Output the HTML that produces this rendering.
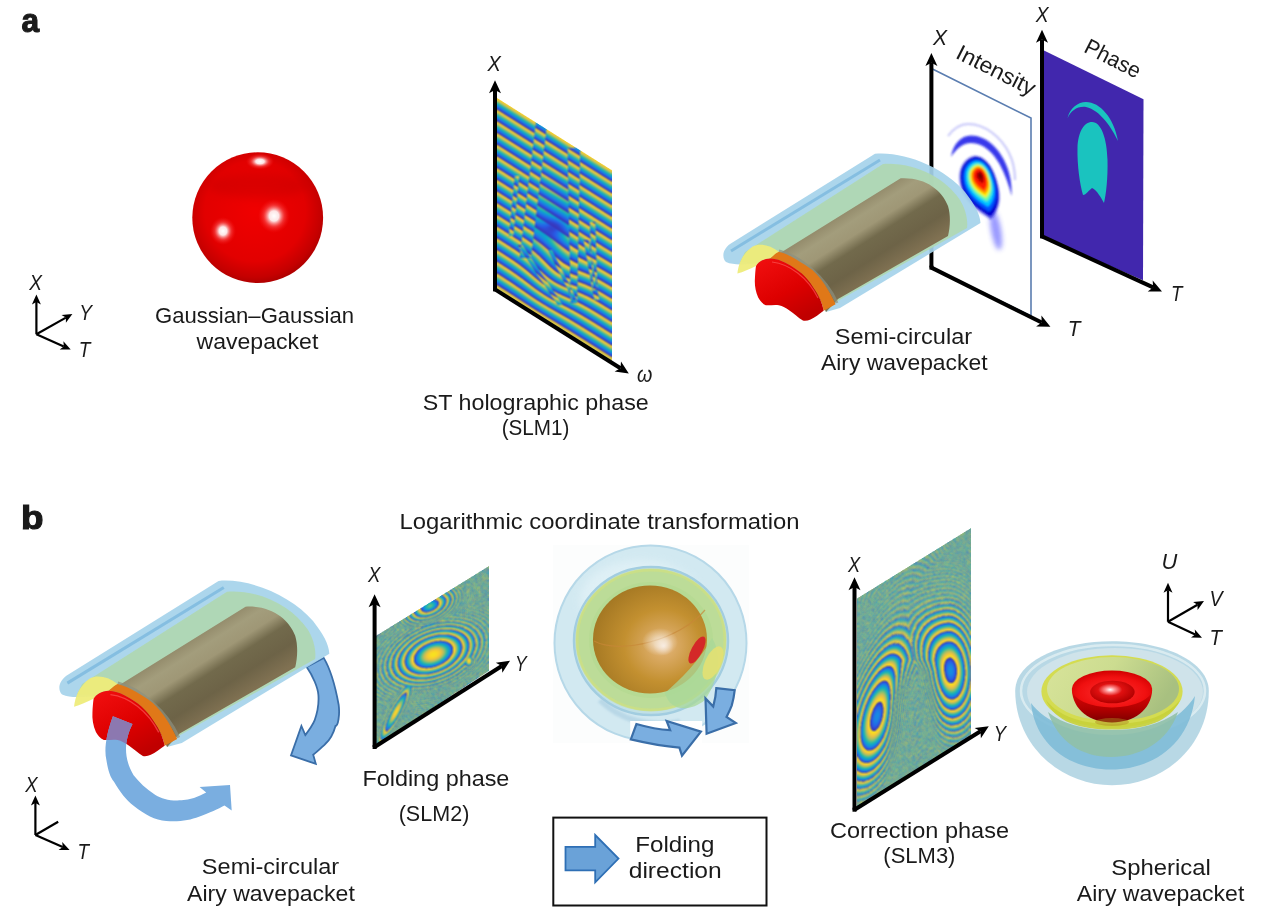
<!DOCTYPE html>
<html><head><meta charset="utf-8"><style>
html,body{margin:0;padding:0;background:#fff;width:1269px;height:917px;overflow:hidden;position:relative}
canvas{position:absolute;z-index:0}
svg{position:absolute;left:0;top:0;z-index:1}
svg{display:block}
text{font-family:"Liberation Sans",sans-serif;fill:#1a1a1a}
.it{font-style:italic}
</style></head><body>
<canvas id="cv1" width="117" height="265" style="left:496px;top:97px"></canvas>
<canvas id="cv2" width="114" height="181" style="left:376px;top:565px"></canvas>
<canvas id="cv3" width="116" height="282" style="left:856px;top:527px"></canvas>
<svg width="1269" height="917" viewBox="0 0 1269 917">

<defs>
  <radialGradient id="sphG" cx="0.48" cy="0.45" r="0.55">
    <stop offset="0" stop-color="#f00000"/>
    <stop offset="0.7" stop-color="#e20000"/>
    <stop offset="0.92" stop-color="#c40000"/>
    <stop offset="1" stop-color="#b00000"/>
  </radialGradient>
  <radialGradient id="hl">
    <stop offset="0" stop-color="#fff" stop-opacity="1"/>
    <stop offset="0.35" stop-color="#fff" stop-opacity="0.85"/>
    <stop offset="1" stop-color="#fff" stop-opacity="0"/>
  </radialGradient>
  <radialGradient id="hl2">
    <stop offset="0" stop-color="#fff" stop-opacity="1"/>
    <stop offset="0.3" stop-color="#fff" stop-opacity="0.9"/>
    <stop offset="0.65" stop-color="#ff7070" stop-opacity="0.4"/>
    <stop offset="1" stop-color="#ff2020" stop-opacity="0"/>
  </radialGradient>
  <linearGradient id="par1" gradientUnits="userSpaceOnUse" x1="497" y1="98" x2="491.73" y2="106.38" spreadMethod="repeat">
    <stop offset="0" stop-color="#f2e21c"/>
    <stop offset="0.18" stop-color="#d9cf2a"/>
    <stop offset="0.36" stop-color="#6fbe78"/>
    <stop offset="0.52" stop-color="#18aec8"/>
    <stop offset="0.7" stop-color="#2180df"/>
    <stop offset="0.86" stop-color="#3b44c6"/>
    <stop offset="0.95" stop-color="#4a3aa8"/>
    <stop offset="1" stop-color="#f2e21c"/>
  </linearGradient>
  <linearGradient id="par1s" gradientUnits="userSpaceOnUse" x1="494.36" y1="102.19" x2="489.09" y2="110.57" spreadMethod="repeat">
    <stop offset="0" stop-color="#f2e21c"/>
    <stop offset="0.18" stop-color="#d9cf2a"/>
    <stop offset="0.36" stop-color="#6fbe78"/>
    <stop offset="0.52" stop-color="#18aec8"/>
    <stop offset="0.7" stop-color="#2180df"/>
    <stop offset="0.86" stop-color="#3b44c6"/>
    <stop offset="0.95" stop-color="#4a3aa8"/>
    <stop offset="1" stop-color="#f2e21c"/>
  </linearGradient>
  <linearGradient id="par1w" gradientUnits="userSpaceOnUse" x1="540" y1="200" x2="531" y2="214" spreadMethod="repeat">
    <stop offset="0" stop-color="#f2e21c"/>
    <stop offset="0.18" stop-color="#d9cf2a"/>
    <stop offset="0.36" stop-color="#6fbe78"/>
    <stop offset="0.52" stop-color="#18aec8"/>
    <stop offset="0.7" stop-color="#2180df"/>
    <stop offset="0.86" stop-color="#3b44c6"/>
    <stop offset="0.95" stop-color="#4a3aa8"/>
    <stop offset="1" stop-color="#f2e21c"/>
  </linearGradient>
  <filter id="blur1" x="-50%" y="-50%" width="200%" height="200%"><feGaussianBlur stdDeviation="1.2"/></filter>
  <filter id="blur2" x="-50%" y="-50%" width="200%" height="200%"><feGaussianBlur stdDeviation="2.5"/></filter>
  <filter id="blur3" x="-50%" y="-50%" width="200%" height="200%"><feGaussianBlur stdDeviation="4"/></filter>
  <filter id="blur05" x="-50%" y="-50%" width="200%" height="200%"><feGaussianBlur stdDeviation="0.6"/></filter>
  <linearGradient id="brownG" gradientUnits="userSpaceOnUse" x1="880" y1="191" x2="918" y2="251">
    <stop offset="0" stop-color="#958d6d"/>
    <stop offset="0.15" stop-color="#a39d7c"/>
    <stop offset="0.33" stop-color="#9f9776"/>
    <stop offset="0.5" stop-color="#726a4c"/>
    <stop offset="0.75" stop-color="#6d6347"/>
    <stop offset="1" stop-color="#807152"/>
  </linearGradient>
  <linearGradient id="redCap" x1="0" y1="0" x2="0.6" y2="1">
    <stop offset="0" stop-color="#f21010"/>
    <stop offset="0.6" stop-color="#dd0000"/>
    <stop offset="1" stop-color="#c00000"/>
  </linearGradient>
</defs>

<!-- Gaussian sphere -->
<circle cx="257.7" cy="217.7" r="65.4" fill="url(#sphG)"/>
<ellipse cx="258" cy="186" rx="50" ry="12" fill="#b00000" opacity="0.25" filter="url(#blur3)"/>
<ellipse cx="260" cy="161.5" rx="14" ry="8" fill="url(#hl2)"/>
<ellipse cx="274" cy="216" rx="16" ry="17" fill="url(#hl2)"/>
<ellipse cx="223" cy="231" rx="13" ry="14" fill="url(#hl2)"/>

<!-- SLM1 plate -->
<g id="fb1">
<polygon points="497,98 612,170 612,361 497,289" fill="url(#par1)"/>
<g filter="url(#blur05)">
<polygon points="531,126 539.5,131 539.5,254 533,254" fill="url(#par1s)"/>
<polygon points="569.5,150 578,155 577,303 571,303" fill="url(#par1s)"/>
<polygon points="512.5,179 517.5,181 518,234 514,234" fill="url(#par1s)"/>
<polygon points="589,227 596,231 596,287 591,287" fill="url(#par1s)"/>
<path d="M539.5,190 L569.5,200 L569.5,255 C560,250 548,248 539.5,252 Z" fill="url(#par1w)"/>
<ellipse cx="551" cy="231" rx="15" ry="9" fill="#3a2fb0" opacity="0.75" filter="url(#blur2)"/>
<ellipse cx="553" cy="214" rx="12" ry="5" fill="#2f4fd8" opacity="0.6" filter="url(#blur1)"/>
</g>
<g filter="url(#blur05)" fill="none" stroke-linecap="round">
<path d="M522,262 C535,248 560,245 585,262" stroke="#e8d82a" stroke-width="3"/>
<path d="M524,270 C540,256 565,255 588,272" stroke="#2a4fd8" stroke-width="3"/>
<path d="M527,278 C542,266 565,265 590,282" stroke="#d8d030" stroke-width="3"/>
<path d="M533,287 C548,276 568,276 590,292" stroke="#2e3fc0" stroke-width="2.5"/>
<path d="M540,296 C552,286 570,287 588,300" stroke="#e0d030" stroke-width="2.5"/>
<path d="M548,305 C558,298 572,299 585,307" stroke="#3050d0" stroke-width="2"/>
</g>
</g>
<!-- Intensity plate -->
<polygon points="932,68.8 1031,118 1031,316 932,267.6" fill="#fff" stroke="#5a7db0" stroke-width="1.6"/>
<g>
  <!-- arcs -->
  <path d="M951,157 C953,144 961,135.5 971,135.5 C986,135.5 998,148 1004,160 C1010,172 1012,183 1011.5,196 C1009,185 1005,174 999.5,164 C993,153 984,143 971,143 C963,143 956,149 951,157 Z" fill="#1818e8" opacity="0.85" filter="url(#blur1)"/>
  <path d="M948,136 C954,128 961,124 968,124 C985,124 1001,137 1009,153 C1013,161 1015,170 1015,180" fill="none" stroke="#7070f0" stroke-width="2" opacity="0.4" filter="url(#blur1)"/>
  <!-- tail -->
  <ellipse cx="996" cy="230" rx="5" ry="20" fill="#3030ff" opacity="0.5" filter="url(#blur2)" transform="rotate(-10 996 230)"/>
  <!-- jet blob -->
  <g id="egg" filter="url(#blur1)">
  <path d="M-6,-18.3 C4,-19 11,-8 14,0 C17,8 19,16 18.5,24 C18,32 14,40 10,43 C3,38 -8,32 -14,22 C-19,15 -21,6 -20,-2 C-19,-10 -13,-17 -6,-18.3 Z" fill="#2020e0" opacity="0.6" transform="translate(980.4,174.9) scale(1.04)"/>
  <path d="M-6,-18.3 C4,-19 11,-8 14,0 C17,8 19,16 18.5,24 C18,32 14,40 10,43 C3,38 -8,32 -14,22 C-19,15 -21,6 -20,-2 C-19,-10 -13,-17 -6,-18.3 Z" fill="#0000d0" opacity="1" transform="translate(980.4,174.9) scale(0.97)"/>
  <path d="M-6,-18.3 C4,-19 11,-8 14,0 C17,8 19,16 18.5,24 C18,32 14,40 10,43 C3,38 -8,32 -14,22 C-19,15 -21,6 -20,-2 C-19,-10 -13,-17 -6,-18.3 Z" fill="#0050ff" opacity="1" transform="translate(980.4,174.9) scale(0.86)"/>
  <path d="M-6,-18.3 C4,-19 11,-8 14,0 C17,8 19,16 18.5,24 C18,32 14,40 10,43 C3,38 -8,32 -14,22 C-19,15 -21,6 -20,-2 C-19,-10 -13,-17 -6,-18.3 Z" fill="#00c8ff" opacity="1" transform="translate(980.4,174.9) scale(0.74)"/>
  <path d="M-6,-18.3 C4,-19 11,-8 14,0 C17,8 19,16 18.5,24 C18,32 14,40 10,43 C3,38 -8,32 -14,22 C-19,15 -21,6 -20,-2 C-19,-10 -13,-17 -6,-18.3 Z" fill="#70ffa0" opacity="1" transform="translate(980.4,174.9) scale(0.62)"/>
  <path d="M-6,-18.3 C4,-19 11,-8 14,0 C17,8 19,16 18.5,24 C18,32 14,40 10,43 C3,38 -8,32 -14,22 C-19,15 -21,6 -20,-2 C-19,-10 -13,-17 -6,-18.3 Z" fill="#ffee00" opacity="1" transform="translate(980.4,174.9) scale(0.53)"/>
  <path d="M-6,-18.3 C4,-19 11,-8 14,0 C17,8 19,16 18.5,24 C18,32 14,40 10,43 C3,38 -8,32 -14,22 C-19,15 -21,6 -20,-2 C-19,-10 -13,-17 -6,-18.3 Z" fill="#ff8800" opacity="1" transform="translate(980.4,174.9) scale(0.44)"/>
  <path d="M-6,-18.3 C4,-19 11,-8 14,0 C17,8 19,16 18.5,24 C18,32 14,40 10,43 C3,38 -8,32 -14,22 C-19,15 -21,6 -20,-2 C-19,-10 -13,-17 -6,-18.3 Z" fill="#ff1a00" opacity="1" transform="translate(980.4,174.9) scale(0.36)"/>
  <path d="M-6,-18.3 C4,-19 11,-8 14,0 C17,8 19,16 18.5,24 C18,32 14,40 10,43 C3,38 -8,32 -14,22 C-19,15 -21,6 -20,-2 C-19,-10 -13,-17 -6,-18.3 Z" fill="#b00000" opacity="1" transform="translate(980.4,174.9) scale(0.2)"/>
  <path d="M-6,-18.3 C4,-19 11,-8 14,0 C17,8 19,16 18.5,24 C18,32 14,40 10,43 C3,38 -8,32 -14,22 C-19,15 -21,6 -20,-2 C-19,-10 -13,-17 -6,-18.3 Z" fill="#700000" opacity="1" transform="translate(980.4,174.9) scale(0.1)"/>
  </g>
</g>
<!-- Phase plate -->
<polygon points="1043.5,50.3 1143.5,99.3 1143,280.3 1041.5,236.4" fill="#4127ad"/>
<path d="M1067.5,118.2 C1070,108 1078,102 1086,102 C1100,102 1114,118 1118,141 C1112,128 1100,110 1086,107 C1077,106 1071,111 1067.5,118.2 Z" fill="#1ac3bf"/>
<path d="M1092,122 C1101,122 1107,138 1107.5,160 C1108,178 1106,195 1104,203 C1101,198 1097,190 1092,188 C1089,190 1086,195 1083,195 C1080,185 1077,165 1077.5,148 C1078,132 1084,122 1092,122 Z" fill="#1ac3bf"/>

<line x1="495.0" y1="289.4" x2="495.0" y2="90.0" stroke="#000" stroke-width="4"/><polygon points="495.0,80.3 501.0,93.3 495.0,90.0 489.0,93.3" fill="#000"/><line x1="495.0" y1="289.4" x2="620.5" y2="368.2" stroke="#000" stroke-width="4"/><polygon points="628.8,373.4 614.6,371.6 620.5,368.2 621.0,361.4" fill="#000"/><rect x="493.0" y="287.4" width="4" height="4" fill="#000"/><line x1="931.4" y1="267.6" x2="931.4" y2="62.8" stroke="#000" stroke-width="4"/><polygon points="931.4,53.0 937.4,66.0 931.4,62.8 925.4,66.0" fill="#000"/><line x1="931.4" y1="267.6" x2="1041.7" y2="322.5" stroke="#000" stroke-width="4"/><polygon points="1050.4,326.8 1036.1,326.4 1041.7,322.5 1041.4,315.6" fill="#000"/><rect x="929.4" y="265.6" width="4" height="4" fill="#000"/><line x1="1042.0" y1="236.4" x2="1042.0" y2="39.5" stroke="#000" stroke-width="4"/><polygon points="1042.0,29.8 1048.0,42.8 1042.0,39.5 1036.0,42.8" fill="#000"/><line x1="1042.0" y1="236.4" x2="1153.1" y2="287.4" stroke="#000" stroke-width="4"/><polygon points="1162.0,291.5 1147.7,291.5 1153.1,287.4 1152.7,280.6" fill="#000"/><rect x="1040.0" y="234.4" width="4" height="4" fill="#000"/><line x1="854.5" y1="809.7" x2="854.5" y2="587.0" stroke="#000" stroke-width="4"/><polygon points="854.5,577.3 860.5,590.3 854.5,587.0 848.5,590.3" fill="#000"/><line x1="854.5" y1="809.7" x2="980.5" y2="731.3" stroke="#000" stroke-width="4"/><polygon points="988.8,726.2 980.9,738.2 980.5,731.3 974.6,728.0" fill="#000"/><rect x="852.5" y="807.7" width="4" height="4" fill="#000"/><line x1="36.4" y1="334.3" x2="36.4" y2="302.0" stroke="#000" stroke-width="2.2"/><polygon points="36.4,294.5 40.9,304.5 36.4,302.0 31.9,304.5" fill="#000"/><line x1="36.4" y1="334.3" x2="65.9" y2="317.6" stroke="#000" stroke-width="2.2"/><polygon points="72.4,313.9 65.9,322.7 65.9,317.6 61.5,314.9" fill="#000"/><line x1="36.4" y1="334.3" x2="63.8" y2="346.5" stroke="#000" stroke-width="2.2"/><polygon points="70.7,349.5 59.7,349.6 63.8,346.5 63.4,341.3" fill="#000"/><line x1="35.4" y1="835.0" x2="35.4" y2="802.9" stroke="#000" stroke-width="2.2"/><polygon points="35.4,795.4 39.9,805.4 35.4,802.9 30.9,805.4" fill="#000"/><line x1="35.4" y1="835" x2="58.2" y2="821.8" stroke="#000" stroke-width="2.2"/><line x1="35.4" y1="835.0" x2="62.7" y2="847.0" stroke="#000" stroke-width="2.2"/><polygon points="69.6,850.0 58.6,850.1 62.7,847.0 62.2,841.9" fill="#000"/><line x1="1168.0" y1="621.8" x2="1168.0" y2="590.2" stroke="#000" stroke-width="2.2"/><polygon points="1168.0,582.7 1172.5,592.7 1168.0,590.2 1163.5,592.7" fill="#000"/><line x1="1168.0" y1="621.8" x2="1197.5" y2="604.8" stroke="#000" stroke-width="2.2"/><polygon points="1204.0,601.0 1197.6,609.9 1197.5,604.8 1193.1,602.1" fill="#000"/><line x1="1168.0" y1="621.8" x2="1195.2" y2="634.5" stroke="#000" stroke-width="2.2"/><polygon points="1202.0,637.7 1191.0,637.5 1195.2,634.5 1194.8,629.4" fill="#000"/>
<!-- top tube -->
<g id="tube">
  <!-- blue outer shell -->
  <path d="M726,262 C722,258 722,250 730,244 L875,153.7 C905,151 945,168 965,192 C975,205 980,214 980.5,223 L840,308 L826,312 C817,286 793,266 761,263 C748,264 735,266 726,262 Z" fill="#a5d3ea" opacity="0.92"/>
  <path d="M731,251 L880,160" stroke="#7cb9df" stroke-width="3" opacity="0.8"/>
  <!-- green shell -->
  <path d="M740,262 L745,252 L883,164 C915,162 945,178 960,200 C966,210 968,220 967,228 L836,302 L826,312 C817,286 793,266 761,263 C752,262 745,262 740,262 Z" fill="#b0d8b2" opacity="0.92"/>
  <!-- brown cylinder -->
  <path d="M781,252.5 L900.7,178.3 C925,177 942,190 948,206 C951,216 950,228 948,236 L838,299 L826,312 C817,286 793,266 761,263 Z" fill="url(#brownG)"/>
  <path d="M779,251 C800,256 826,278 837,303" fill="none" stroke="#8c9080" stroke-width="3" opacity="0.7"/>
  <!-- yellow crescent -->
  <path d="M737.4,273.6 C738.5,264 742,254 752.7,246.4 C760,243 770,245 778.9,251.8 L770.2,258.4 C764,258.5 758,262 756,266 C750,269 743,272 737.4,273.6 Z" fill="#eeec7a" opacity="0.95"/>
  <!-- orange band -->
  <path d="M770.2,258.4 C774,255 776.5,252.8 778.9,251.8 C785,253.5 791,256 796.3,259.4 C803,263.5 808,266.5 812.7,270.3 C818,275.5 821.5,280 824.7,284.5 C829,291 832.5,297.5 835.6,304.2 L823.6,310.7 C823,307 821.8,303.5 820.3,299.8 C818.5,295.5 816,291.5 812.7,286.7 C809.5,282 806,277.5 801.8,273.6 C797,269.5 792,266 785.4,262.7 C781,260.5 776,258.5 770.2,258.4 Z" fill="#e07818"/>
  <!-- red cap -->
  <path d="M756,266 C758,262 764,258.5 770.2,258.4 C776,258.5 781,260.5 785.4,262.7 C792,266 797,269.5 801.8,273.6 C806,277.5 809.5,282 812.7,286.7 C816,291.5 818.5,295.5 820.3,299.8 C821.8,303.5 823,307 823.6,310.7 C819,314 815,317.5 810.5,319.4 C808,320.5 805.5,321 802.9,320.5 C798,317.5 794,313.5 789.8,310.7 C786,308 782.5,306 778.9,305.2 C774.5,304.5 770,305.5 765.8,305.2 C762,303.5 759.8,300.5 758.2,297.6 C755.5,291.5 754.5,285 754.9,279 C755.1,274.5 755.4,270 756,266 Z" fill="url(#redCap)"/>
  <path d="M772,262 C790,264 808,278 818,298" fill="none" stroke="#ff6060" stroke-width="1.2" opacity="0.6"/>
</g>
<defs>
  <radialGradient id="fine" gradientUnits="userSpaceOnUse" cx="913" cy="690" r="3" spreadMethod="repeat" gradientTransform="translate(913 690) scale(0.6 1) translate(-913 -690)">
    <stop offset="0" stop-color="#5a90c0"/><stop offset="0.5" stop-color="#98c878"/><stop offset="1" stop-color="#5a90c0"/>
  </radialGradient>
  <radialGradient id="fine2" gradientUnits="userSpaceOnUse" cx="432" cy="654" r="2.6" spreadMethod="repeat" gradientTransform="translate(432 654) rotate(-25) scale(1.5 1) translate(-432 -654)">
    <stop offset="0" stop-color="#5a90c0"/><stop offset="0.5" stop-color="#98c878"/><stop offset="1" stop-color="#5a90c0"/>
  </radialGradient>
  <radialGradient id="ring2" gradientUnits="userSpaceOnUse" cx="0" cy="0" r="7" spreadMethod="repeat">
    <stop offset="0" stop-color="#f2e21c"/>
    <stop offset="0.2" stop-color="#b8cc40"/>
    <stop offset="0.4" stop-color="#30b8a8"/>
    <stop offset="0.6" stop-color="#1c8ede"/>
    <stop offset="0.8" stop-color="#3040c8"/>
    <stop offset="1" stop-color="#f2e21c"/>
  </radialGradient>
  <radialGradient id="fadeR">
    <stop offset="0" stop-color="#fff" stop-opacity="1"/>
    <stop offset="0.7" stop-color="#fff" stop-opacity="1"/>
    <stop offset="1" stop-color="#fff" stop-opacity="0"/>
  </radialGradient>
  <pattern id="noise" width="6" height="6" patternUnits="userSpaceOnUse" patternTransform="rotate(30)">
    <rect width="6" height="6" fill="#68ae9c"/>
    <rect x="0" y="0" width="3" height="3" fill="#5d9fb0"/>
    <rect x="3" y="3" width="3" height="3" fill="#86bd84"/>
  </pattern>
  <linearGradient id="brownB" gradientUnits="userSpaceOnUse" x1="230" y1="600" x2="258" y2="665">
    <stop offset="0" stop-color="#948a6e"/>
    <stop offset="0.35" stop-color="#a49b7e"/>
    <stop offset="0.6" stop-color="#7f7358"/>
    <stop offset="1" stop-color="#6c5f47"/>
  </linearGradient>
  <radialGradient id="ellBrown" cx="0.6" cy="0.55" r="0.75" fx="0.62" fy="0.56">
    <stop offset="0" stop-color="#f2dcc8"/>
    <stop offset="0.12" stop-color="#dcac68"/>
    <stop offset="0.45" stop-color="#c39030"/>
    <stop offset="0.85" stop-color="#a27622"/>
    <stop offset="1" stop-color="#8c661c"/>
  </radialGradient>
  <linearGradient id="yelIn" x1="0" y1="0" x2="1" y2="0.3">
    <stop offset="0" stop-color="#d8e49a"/>
    <stop offset="0.5" stop-color="#ccdc90"/>
    <stop offset="1" stop-color="#a8c080"/>
  </linearGradient>
  <linearGradient id="hemiRedOut" x1="0" y1="0" x2="0" y2="1">
    <stop offset="0" stop-color="#e00808"/>
    <stop offset="0.6" stop-color="#b00000"/>
    <stop offset="1" stop-color="#7a0000"/>
  </linearGradient>
  <radialGradient id="hemiRim" cx="0.5" cy="0.6" r="0.6">
    <stop offset="0" stop-color="#ff3030"/>
    <stop offset="0.7" stop-color="#f01010"/>
    <stop offset="1" stop-color="#d00000"/>
  </radialGradient>
  <radialGradient id="hemiHole" cx="0.45" cy="0.4" r="0.6">
    <stop offset="0" stop-color="#ffffff"/>
    <stop offset="0.18" stop-color="#ff9090"/>
    <stop offset="0.45" stop-color="#e01010"/>
    <stop offset="1" stop-color="#b00000"/>
  </radialGradient>
  <radialGradient id="hemiRed" cx="0.5" cy="0.3" r="0.7">
    <stop offset="0" stop-color="#ff2020"/>
    <stop offset="0.6" stop-color="#e00000"/>
    <stop offset="1" stop-color="#900000"/>
  </radialGradient>
</defs>

<!-- right curved arrow (behind tube visually at top) -->
<path d="M323.7,657.9 C331,670 336,690 338.7,705 C340,715 338,726 335.5,726 C333,735 330,740 325,744.3 C321,748 317,752 313.2,754.7 L315.8,763.9 L291,755.4 L301.4,725.9 L305.3,735.1 C310,729 313,724 314.5,720.7 C318,711 319,703 318.4,695 C318,688 313,676 306.7,667 Z" fill="#7aaee0" stroke="#3a6ea8" stroke-width="1.8" stroke-linejoin="miter"/>
<!-- bottom tube -->
<use href="#tube" transform="translate(-700.2,419.5) scale(1.05)"/>

<!-- bottom curved arrow -->
<clipPath id="redClipB"><path d="M756,266 C758,262 764,258.5 770.2,258.4 C776,258.5 781,260.5 785.4,262.7 C792,266 797,269.5 801.8,273.6 C806,277.5 809.5,282 812.7,286.7 C816,291.5 818.5,295.5 820.3,299.8 C821.8,303.5 823,307 823.6,310.7 C819,314 815,317.5 810.5,319.4 C808,320.5 805.5,321 802.9,320.5 C798,317.5 794,313.5 789.8,310.7 C786,308 782.5,306 778.9,305.2 C774.5,304.5 770,305.5 765.8,305.2 C762,303.5 759.8,300.5 758.2,297.6 C755.5,291.5 754.5,285 754.9,279 C755.1,274.5 755.4,270 756,266 Z" transform="translate(-700.2,419.5) scale(1.05)"/></clipPath>
<path d="M112.9,716.3 C106,735 104,750 106.4,760 C108,770 110,777 114,781.8 C120,792 126,800 133.6,805.8 C145,815 155,820 166.3,821 C180,822 190,820 199,816.7 C210,813 218,809 224.5,805.6 L231.7,810.6 L230,785 L199.6,787 L206.2,792.6 C198,797 190,800 181.6,800.3 C170,801 162,799 155.4,794.9 C146,789 139,782 133.6,775.2 C128,766 126,757 126,749 C126,740 129,731 132.5,724 Z" fill="#7aaee0"/>
<path d="M112.9,716.3 C106,735 104,750 106.4,760 C108,770 110,777 114,781.8 C120,792 126,800 133.6,805.8 C145,815 155,820 166.3,821 C180,822 190,820 199,816.7 C210,813 218,809 224.5,805.6 L231.7,810.6 L230,785 L199.6,787 L206.2,792.6 C198,797 190,800 181.6,800.3 C170,801 162,799 155.4,794.9 C146,789 139,782 133.6,775.2 C128,766 126,757 126,749 C126,740 129,731 132.5,724 Z" fill="#8c78b0" clip-path="url(#redClipB)"/>

<!-- SLM2 plate -->
<clipPath id="clipS2"><polygon points="376.2,635.7 489.2,565.9 489.2,670.6 376.2,745"/></clipPath>
<g id="fb2" clip-path="url(#clipS2)">
  <rect x="370" y="560" width="125" height="190" fill="url(#noise)"/>
  <rect x="370" y="560" width="125" height="190" fill="#6aad9a" opacity="0.5"/>
  <ellipse cx="432" cy="654" rx="90" ry="90" fill="url(#fine2)" opacity="0.3"/>
<g filter="url(#blur05)"><g transform="translate(432,654) rotate(-25)">
<ellipse rx="46.68" ry="30.34" fill="url(#zg19)" opacity="0.09"/>
<ellipse rx="44.22" ry="28.75" fill="url(#zg20)" opacity="0.20"/>
<ellipse rx="41.69" ry="27.10" fill="url(#zg21)" opacity="0.31"/>
<ellipse rx="39.05" ry="25.38" fill="url(#zg22)" opacity="0.41"/>
<ellipse rx="36.30" ry="23.60" fill="url(#zg23)" opacity="0.52"/>
<ellipse rx="33.42" ry="21.72" fill="url(#zg24)" opacity="0.63"/>
<ellipse rx="30.37" ry="19.74" fill="url(#zg25)" opacity="0.74"/>
<ellipse rx="27.12" ry="17.63" fill="url(#zg26)" opacity="0.85"/>
<ellipse rx="23.62" ry="15.35" fill="url(#zg27)" opacity="0.96"/>
<ellipse rx="19.76" ry="12.84" fill="url(#zg28)" opacity="1.00"/>
<ellipse rx="15.37" ry="9.99" fill="url(#zg29)" opacity="1.00"/>
<ellipse rx="10.00" ry="6.50" fill="url(#zg30)" opacity="1.00"/>
</g>
<g transform="translate(430,610) rotate(-25)">
<ellipse rx="21.26" ry="12.15" fill="url(#zg31)" opacity="0.00"/>
<ellipse rx="18.99" ry="10.85" fill="url(#zg32)" opacity="0.00"/>
<ellipse rx="16.53" ry="9.45" fill="url(#zg33)" opacity="0.15"/>
<ellipse rx="13.83" ry="7.90" fill="url(#zg34)" opacity="0.40"/>
<ellipse rx="10.76" ry="6.15" fill="url(#zg35)" opacity="0.65"/>
<ellipse rx="7.00" ry="4.00" fill="url(#zg36)" opacity="0.90"/>
</g></g>
</g>
<line x1="374.6" y1="747.0" x2="374.6" y2="604.0" stroke="#000" stroke-width="4"/><polygon points="374.6,594.3 380.6,607.3 374.6,604.0 368.6,607.3" fill="#000"/><line x1="374.6" y1="747.0" x2="501.8" y2="666.0" stroke="#000" stroke-width="4"/><polygon points="510.0,660.8 502.3,672.8 501.8,666.0 495.8,662.7" fill="#000"/><rect x="372.6" y="745.0" width="4" height="4" fill="#000"/>

<!-- ellipsoid -->
<g>
  <rect x="553" y="545" width="196" height="198" fill="#fcfdfd"/>
  <ellipse cx="650.5" cy="643" rx="96" ry="97.5" fill="#d2e9f1" stroke="#b6d8e8" stroke-width="2"/>
  <ellipse cx="640" cy="600" rx="60" ry="40" fill="#e4f3f8" opacity="0.7" filter="url(#blur3)"/>
  <ellipse cx="651" cy="641" rx="77" ry="74" fill="#c0e0e6" stroke="#a2cde0" stroke-width="2.5"/>
  <ellipse cx="651" cy="640" rx="75" ry="71" fill="#bcdc98"/>
  <ellipse cx="651" cy="640" rx="74" ry="70" fill="none" stroke="#d0e080" stroke-width="3" opacity="0.7"/>
  <ellipse cx="651" cy="640" rx="62" ry="58" fill="#b2d890" opacity="0.6"/>
  <ellipse cx="650" cy="639.5" rx="57" ry="54" fill="url(#ellBrown)"/>
  <path d="M594,641 C620,655 680,640 705,610" fill="none" stroke="#c88838" stroke-width="1.2" opacity="0.7"/>
  <path d="M665,693 C680,680 700,660 712,638 C720,650 722,675 705,700 C690,712 670,712 665,693 Z" fill="#a8d898" opacity="0.75"/>
  <ellipse cx="697" cy="650" rx="5.5" ry="15" fill="#d42828" transform="rotate(28 697 650)"/>
  <ellipse cx="713" cy="663" rx="8" ry="18" fill="#e6e070" opacity="0.85" transform="rotate(25 713 663)"/>
  <ellipse cx="660" cy="642" rx="18" ry="14" fill="url(#hl)" opacity="0.55"/>
  <path d="M600,700 C620,720 650,728 680,722" fill="none" stroke="#a8cce0" stroke-width="6" opacity="0.6" filter="url(#blur1)"/>
</g>
<!-- ellipsoid arrows -->
<rect x="630.2" y="721" width="72" height="40" fill="#fff"/>
<path d="M636.4,724 C645,726.5 658,729.5 670.2,730.2 L666.6,721 L700.9,731.7 L682,755.8 L679.4,747.6 C665,746.5 648,743.5 630.8,739.4 Z" fill="#7aaee0" stroke="#3a6ea8" stroke-width="2.2" stroke-linejoin="miter"/>
<path d="M716.3,688.2 L734.7,690.2 C734,697 733,701 731.7,705.6 C730,710 728,714 726.5,716.9 L735.8,723 L706.6,733.8 L705.5,698.4 L713.2,706.6 C715,700 716,694 716.3,688.2 Z" fill="#7aaee0" stroke="#3a6ea8" stroke-width="2.2" stroke-linejoin="miter"/>

<!-- legend box -->
<rect x="553.3" y="817.6" width="213.2" height="87.9" fill="none" stroke="#111" stroke-width="2"/>
<polygon points="565.5,846.9 595.2,846.9 595.2,835 618.5,858.6 595.2,882.3 595.2,870.4 565.5,870.4" fill="#6aa2d8" stroke="#2e6fb5" stroke-width="1.8"/>

<!-- SLM3 plate -->
<clipPath id="clipS3"><polygon points="856.8,598.6 970.8,528.2 970.8,736 856.8,808"/></clipPath>
<g id="fb3" clip-path="url(#clipS3)">
  <rect x="850" y="520" width="130" height="300" fill="url(#noise)"/>
  <rect x="850" y="520" width="130" height="300" fill="#6aad9a" opacity="0.5"/>
  <ellipse cx="913" cy="690" rx="80" ry="150" fill="url(#fine)" opacity="0.35"/>
<defs><radialGradient id="zg1"><stop offset="0.920" stop-color="#f0dc1c"/><stop offset="0.921" stop-color="#f5e41e"/><stop offset="0.938" stop-color="#a8c848"/><stop offset="0.956" stop-color="#20b0b8"/><stop offset="0.976" stop-color="#2a7ee8"/><stop offset="0.994" stop-color="#3838c8"/><stop offset="1" stop-color="#3a2fa0"/></radialGradient>
<radialGradient id="zg2"><stop offset="0.910" stop-color="#f0dc1c"/><stop offset="0.911" stop-color="#f5e41e"/><stop offset="0.930" stop-color="#a8c848"/><stop offset="0.951" stop-color="#20b0b8"/><stop offset="0.973" stop-color="#2a7ee8"/><stop offset="0.993" stop-color="#3838c8"/><stop offset="1" stop-color="#3a2fa0"/></radialGradient>
<radialGradient id="zg3"><stop offset="0.897" stop-color="#f0dc1c"/><stop offset="0.898" stop-color="#f5e41e"/><stop offset="0.920" stop-color="#a8c848"/><stop offset="0.944" stop-color="#20b0b8"/><stop offset="0.969" stop-color="#2a7ee8"/><stop offset="0.992" stop-color="#3838c8"/><stop offset="1" stop-color="#3a2fa0"/></radialGradient>
<radialGradient id="zg4"><stop offset="0.879" stop-color="#f0dc1c"/><stop offset="0.880" stop-color="#f5e41e"/><stop offset="0.907" stop-color="#a8c848"/><stop offset="0.934" stop-color="#20b0b8"/><stop offset="0.964" stop-color="#2a7ee8"/><stop offset="0.990" stop-color="#3838c8"/><stop offset="1" stop-color="#3a2fa0"/></radialGradient>
<radialGradient id="zg5"><stop offset="0.854" stop-color="#f0dc1c"/><stop offset="0.855" stop-color="#f5e41e"/><stop offset="0.887" stop-color="#a8c848"/><stop offset="0.920" stop-color="#20b0b8"/><stop offset="0.957" stop-color="#2a7ee8"/><stop offset="0.988" stop-color="#3838c8"/><stop offset="1" stop-color="#3a2fa0"/></radialGradient>
<radialGradient id="zg6"><stop offset="0.817" stop-color="#f0dc1c"/><stop offset="0.818" stop-color="#f5e41e"/><stop offset="0.858" stop-color="#a8c848"/><stop offset="0.900" stop-color="#20b0b8"/><stop offset="0.945" stop-color="#2a7ee8"/><stop offset="0.985" stop-color="#3838c8"/><stop offset="1" stop-color="#3a2fa0"/></radialGradient>
<radialGradient id="zg7"><stop offset="0.752" stop-color="#f0dc1c"/><stop offset="0.753" stop-color="#f5e41e"/><stop offset="0.807" stop-color="#a8c848"/><stop offset="0.864" stop-color="#20b0b8"/><stop offset="0.926" stop-color="#2a7ee8"/><stop offset="0.980" stop-color="#3838c8"/><stop offset="1" stop-color="#3a2fa0"/></radialGradient>
<radialGradient id="zg8"><stop offset="0.615" stop-color="#f0dc1c"/><stop offset="0.616" stop-color="#f5e41e"/><stop offset="0.700" stop-color="#a8c848"/><stop offset="0.789" stop-color="#20b0b8"/><stop offset="0.885" stop-color="#2a7ee8"/><stop offset="0.969" stop-color="#3838c8"/><stop offset="1" stop-color="#3a2fa0"/></radialGradient>
<radialGradient id="zg9"><stop offset="0" stop-color="#3a8af5"/><stop offset="0.6" stop-color="#2f64e8"/><stop offset="0.9" stop-color="#3838c8"/><stop offset="1" stop-color="#3a2fa0"/></radialGradient>
<radialGradient id="zg10"><stop offset="0.920" stop-color="#f0dc1c"/><stop offset="0.921" stop-color="#f5e41e"/><stop offset="0.938" stop-color="#a8c848"/><stop offset="0.956" stop-color="#20b0b8"/><stop offset="0.976" stop-color="#2a7ee8"/><stop offset="0.994" stop-color="#3838c8"/><stop offset="1" stop-color="#3a2fa0"/></radialGradient>
<radialGradient id="zg11"><stop offset="0.910" stop-color="#f0dc1c"/><stop offset="0.911" stop-color="#f5e41e"/><stop offset="0.930" stop-color="#a8c848"/><stop offset="0.951" stop-color="#20b0b8"/><stop offset="0.973" stop-color="#2a7ee8"/><stop offset="0.993" stop-color="#3838c8"/><stop offset="1" stop-color="#3a2fa0"/></radialGradient>
<radialGradient id="zg12"><stop offset="0.897" stop-color="#f0dc1c"/><stop offset="0.898" stop-color="#f5e41e"/><stop offset="0.920" stop-color="#a8c848"/><stop offset="0.944" stop-color="#20b0b8"/><stop offset="0.969" stop-color="#2a7ee8"/><stop offset="0.992" stop-color="#3838c8"/><stop offset="1" stop-color="#3a2fa0"/></radialGradient>
<radialGradient id="zg13"><stop offset="0.879" stop-color="#f0dc1c"/><stop offset="0.880" stop-color="#f5e41e"/><stop offset="0.907" stop-color="#a8c848"/><stop offset="0.934" stop-color="#20b0b8"/><stop offset="0.964" stop-color="#2a7ee8"/><stop offset="0.990" stop-color="#3838c8"/><stop offset="1" stop-color="#3a2fa0"/></radialGradient>
<radialGradient id="zg14"><stop offset="0.854" stop-color="#f0dc1c"/><stop offset="0.855" stop-color="#f5e41e"/><stop offset="0.887" stop-color="#a8c848"/><stop offset="0.920" stop-color="#20b0b8"/><stop offset="0.957" stop-color="#2a7ee8"/><stop offset="0.988" stop-color="#3838c8"/><stop offset="1" stop-color="#3a2fa0"/></radialGradient>
<radialGradient id="zg15"><stop offset="0.817" stop-color="#f0dc1c"/><stop offset="0.818" stop-color="#f5e41e"/><stop offset="0.858" stop-color="#a8c848"/><stop offset="0.900" stop-color="#20b0b8"/><stop offset="0.945" stop-color="#2a7ee8"/><stop offset="0.985" stop-color="#3838c8"/><stop offset="1" stop-color="#3a2fa0"/></radialGradient>
<radialGradient id="zg16"><stop offset="0.752" stop-color="#f0dc1c"/><stop offset="0.753" stop-color="#f5e41e"/><stop offset="0.807" stop-color="#a8c848"/><stop offset="0.864" stop-color="#20b0b8"/><stop offset="0.926" stop-color="#2a7ee8"/><stop offset="0.980" stop-color="#3838c8"/><stop offset="1" stop-color="#3a2fa0"/></radialGradient>
<radialGradient id="zg17"><stop offset="0.615" stop-color="#f0dc1c"/><stop offset="0.616" stop-color="#f5e41e"/><stop offset="0.700" stop-color="#a8c848"/><stop offset="0.789" stop-color="#20b0b8"/><stop offset="0.885" stop-color="#2a7ee8"/><stop offset="0.969" stop-color="#3838c8"/><stop offset="1" stop-color="#3a2fa0"/></radialGradient>
<radialGradient id="zg18"><stop offset="0" stop-color="#3a8af5"/><stop offset="0.6" stop-color="#2f64e8"/><stop offset="0.9" stop-color="#3838c8"/><stop offset="1" stop-color="#3a2fa0"/></radialGradient>
<radialGradient id="zg19"><stop offset="0.946" stop-color="#f0dc1c"/><stop offset="0.947" stop-color="#f5e41e"/><stop offset="0.959" stop-color="#a8c848"/><stop offset="0.971" stop-color="#20b0b8"/><stop offset="0.984" stop-color="#2a7ee8"/><stop offset="0.996" stop-color="#3838c8"/><stop offset="1" stop-color="#3a2fa0"/></radialGradient>
<radialGradient id="zg20"><stop offset="0.942" stop-color="#f0dc1c"/><stop offset="0.943" stop-color="#f5e41e"/><stop offset="0.955" stop-color="#a8c848"/><stop offset="0.968" stop-color="#20b0b8"/><stop offset="0.983" stop-color="#2a7ee8"/><stop offset="0.995" stop-color="#3838c8"/><stop offset="1" stop-color="#3a2fa0"/></radialGradient>
<radialGradient id="zg21"><stop offset="0.936" stop-color="#f0dc1c"/><stop offset="0.937" stop-color="#f5e41e"/><stop offset="0.951" stop-color="#a8c848"/><stop offset="0.965" stop-color="#20b0b8"/><stop offset="0.981" stop-color="#2a7ee8"/><stop offset="0.995" stop-color="#3838c8"/><stop offset="1" stop-color="#3a2fa0"/></radialGradient>
<radialGradient id="zg22"><stop offset="0.929" stop-color="#f0dc1c"/><stop offset="0.930" stop-color="#f5e41e"/><stop offset="0.945" stop-color="#a8c848"/><stop offset="0.961" stop-color="#20b0b8"/><stop offset="0.979" stop-color="#2a7ee8"/><stop offset="0.994" stop-color="#3838c8"/><stop offset="1" stop-color="#3a2fa0"/></radialGradient>
<radialGradient id="zg23"><stop offset="0.920" stop-color="#f0dc1c"/><stop offset="0.921" stop-color="#f5e41e"/><stop offset="0.938" stop-color="#a8c848"/><stop offset="0.956" stop-color="#20b0b8"/><stop offset="0.976" stop-color="#2a7ee8"/><stop offset="0.994" stop-color="#3838c8"/><stop offset="1" stop-color="#3a2fa0"/></radialGradient>
<radialGradient id="zg24"><stop offset="0.908" stop-color="#f0dc1c"/><stop offset="0.909" stop-color="#f5e41e"/><stop offset="0.929" stop-color="#a8c848"/><stop offset="0.950" stop-color="#20b0b8"/><stop offset="0.973" stop-color="#2a7ee8"/><stop offset="0.993" stop-color="#3838c8"/><stop offset="1" stop-color="#3a2fa0"/></radialGradient>
<radialGradient id="zg25"><stop offset="0.892" stop-color="#f0dc1c"/><stop offset="0.893" stop-color="#f5e41e"/><stop offset="0.917" stop-color="#a8c848"/><stop offset="0.941" stop-color="#20b0b8"/><stop offset="0.968" stop-color="#2a7ee8"/><stop offset="0.991" stop-color="#3838c8"/><stop offset="1" stop-color="#3a2fa0"/></radialGradient>
<radialGradient id="zg26"><stop offset="0.870" stop-color="#f0dc1c"/><stop offset="0.871" stop-color="#f5e41e"/><stop offset="0.899" stop-color="#a8c848"/><stop offset="0.929" stop-color="#20b0b8"/><stop offset="0.961" stop-color="#2a7ee8"/><stop offset="0.990" stop-color="#3838c8"/><stop offset="1" stop-color="#3a2fa0"/></radialGradient>
<radialGradient id="zg27"><stop offset="0.836" stop-color="#f0dc1c"/><stop offset="0.837" stop-color="#f5e41e"/><stop offset="0.873" stop-color="#a8c848"/><stop offset="0.910" stop-color="#20b0b8"/><stop offset="0.951" stop-color="#2a7ee8"/><stop offset="0.987" stop-color="#3838c8"/><stop offset="1" stop-color="#3a2fa0"/></radialGradient>
<radialGradient id="zg28"><stop offset="0.777" stop-color="#f0dc1c"/><stop offset="0.778" stop-color="#f5e41e"/><stop offset="0.827" stop-color="#a8c848"/><stop offset="0.878" stop-color="#20b0b8"/><stop offset="0.933" stop-color="#2a7ee8"/><stop offset="0.982" stop-color="#3838c8"/><stop offset="1" stop-color="#3a2fa0"/></radialGradient>
<radialGradient id="zg29"><stop offset="0.650" stop-color="#f0dc1c"/><stop offset="0.651" stop-color="#f5e41e"/><stop offset="0.728" stop-color="#a8c848"/><stop offset="0.808" stop-color="#20b0b8"/><stop offset="0.895" stop-color="#2a7ee8"/><stop offset="0.972" stop-color="#3838c8"/><stop offset="1" stop-color="#3a2fa0"/></radialGradient>
<radialGradient id="zg30"><stop offset="0" stop-color="#f8e820"/><stop offset="0.5" stop-color="#e8dc28"/><stop offset="0.75" stop-color="#a8c848"/><stop offset="0.9" stop-color="#30b0b0"/><stop offset="1" stop-color="#2a7ee8"/></radialGradient>
<radialGradient id="zg31"><stop offset="0.892" stop-color="#f0dc1c"/><stop offset="0.893" stop-color="#f5e41e"/><stop offset="0.917" stop-color="#a8c848"/><stop offset="0.941" stop-color="#20b0b8"/><stop offset="0.968" stop-color="#2a7ee8"/><stop offset="0.991" stop-color="#3838c8"/><stop offset="1" stop-color="#3a2fa0"/></radialGradient>
<radialGradient id="zg32"><stop offset="0.870" stop-color="#f0dc1c"/><stop offset="0.871" stop-color="#f5e41e"/><stop offset="0.899" stop-color="#a8c848"/><stop offset="0.929" stop-color="#20b0b8"/><stop offset="0.961" stop-color="#2a7ee8"/><stop offset="0.990" stop-color="#3838c8"/><stop offset="1" stop-color="#3a2fa0"/></radialGradient>
<radialGradient id="zg33"><stop offset="0.836" stop-color="#f0dc1c"/><stop offset="0.837" stop-color="#f5e41e"/><stop offset="0.873" stop-color="#a8c848"/><stop offset="0.910" stop-color="#20b0b8"/><stop offset="0.951" stop-color="#2a7ee8"/><stop offset="0.987" stop-color="#3838c8"/><stop offset="1" stop-color="#3a2fa0"/></radialGradient>
<radialGradient id="zg34"><stop offset="0.777" stop-color="#f0dc1c"/><stop offset="0.778" stop-color="#f5e41e"/><stop offset="0.827" stop-color="#a8c848"/><stop offset="0.878" stop-color="#20b0b8"/><stop offset="0.933" stop-color="#2a7ee8"/><stop offset="0.982" stop-color="#3838c8"/><stop offset="1" stop-color="#3a2fa0"/></radialGradient>
<radialGradient id="zg35"><stop offset="0.650" stop-color="#f0dc1c"/><stop offset="0.651" stop-color="#f5e41e"/><stop offset="0.728" stop-color="#a8c848"/><stop offset="0.808" stop-color="#20b0b8"/><stop offset="0.895" stop-color="#2a7ee8"/><stop offset="0.972" stop-color="#3838c8"/><stop offset="1" stop-color="#3a2fa0"/></radialGradient>
<radialGradient id="zg36"><stop offset="0" stop-color="#3a8af5"/><stop offset="0.6" stop-color="#2f64e8"/><stop offset="0.9" stop-color="#3838c8"/><stop offset="1" stop-color="#3a2fa0"/></radialGradient></defs>
<g filter="url(#blur05)"><g transform="translate(877.5,716) rotate(12)">
<ellipse rx="31.66" ry="76.82" fill="url(#zg1)" opacity="0.12"/>
<ellipse rx="29.15" ry="70.74" fill="url(#zg2)" opacity="0.30"/>
<ellipse rx="26.55" ry="64.42" fill="url(#zg3)" opacity="0.48"/>
<ellipse rx="23.83" ry="57.83" fill="url(#zg4)" opacity="0.65"/>
<ellipse rx="20.98" ry="50.91" fill="url(#zg5)" opacity="0.83"/>
<ellipse rx="17.95" ry="43.54" fill="url(#zg6)" opacity="1.00"/>
<ellipse rx="14.67" ry="35.60" fill="url(#zg7)" opacity="1.00"/>
<ellipse rx="11.05" ry="26.80" fill="url(#zg8)" opacity="1.00"/>
<ellipse rx="6.80" ry="16.50" fill="url(#zg9)" opacity="1.00"/>
</g>
<g transform="translate(950.5,670.5) rotate(4)">
<ellipse rx="31.66" ry="61.45" fill="url(#zg10)" opacity="0.12"/>
<ellipse rx="29.15" ry="56.59" fill="url(#zg11)" opacity="0.30"/>
<ellipse rx="26.55" ry="51.54" fill="url(#zg12)" opacity="0.48"/>
<ellipse rx="23.83" ry="46.27" fill="url(#zg13)" opacity="0.65"/>
<ellipse rx="20.98" ry="40.72" fill="url(#zg14)" opacity="0.83"/>
<ellipse rx="17.95" ry="34.84" fill="url(#zg15)" opacity="1.00"/>
<ellipse rx="14.67" ry="28.48" fill="url(#zg16)" opacity="1.00"/>
<ellipse rx="11.05" ry="21.44" fill="url(#zg17)" opacity="1.00"/>
<ellipse rx="6.80" ry="13.20" fill="url(#zg18)" opacity="1.00"/>
</g></g>
</g>

<!-- hemisphere -->
<g>
  <!-- outer bowl -->
  <path d="M1015.2,691 C1015.5,745 1060,785.2 1112,785.2 C1165,785.2 1208.8,745 1208.8,691 C1208.8,662 1165,641.3 1112,641.3 C1059,641.3 1015.2,662 1015.2,691 Z" fill="#b4d6e4" opacity="0.95"/>
  <ellipse cx="1115" cy="692" rx="88" ry="44" fill="#cfe3ea"/>
  <ellipse cx="1113" cy="691" rx="92" ry="46" fill="none" stroke="#e2f0f4" stroke-width="2.5" opacity="0.8"/>
  <!-- second blue bowl -->
  <path d="M1031,703 C1035,745 1070,769.5 1111,769.5 C1152,769.5 1190,745 1195,696 C1180,720 1150,735 1112,735 C1075,735 1045,722 1031,703 Z" fill="#80bcd8" opacity="0.9"/>
  <!-- green bowl -->
  <path d="M1048,712 C1058,742 1082,757 1111,757 C1140,757 1168,742 1178,712 C1160,724 1140,730 1112,730 C1085,730 1062,724 1048,712 Z" fill="#90c0a8" opacity="0.9"/>
  <!-- yellow shell -->
  <ellipse cx="1112" cy="691.5" rx="70.6" ry="36.3" fill="#d4dc50"/>
  <ellipse cx="1113" cy="689" rx="66" ry="32" fill="url(#yelIn)"/>
  <path d="M1046,700 C1060,718 1085,724 1112,724 C1140,724 1165,718 1180,700 C1170,722 1145,729.5 1112,729.5 C1080,729.5 1055,722 1046,700 Z" fill="#c8d038" opacity="0.9"/>
  <!-- red bowl -->
  <path d="M1071.9,690 C1073,710 1090,722.4 1112,722.4 C1134,722.4 1151,710 1152.2,690 Z" fill="url(#hemiRedOut)"/>
  <ellipse cx="1112" cy="722" rx="17" ry="4" fill="#b08a20" opacity="0.45"/>
  <ellipse cx="1112" cy="689" rx="40.2" ry="18.5" fill="url(#hemiRim)"/>
  <ellipse cx="1112.4" cy="692" rx="22.3" ry="11.3" fill="url(#hemiHole)"/>
</g>

<text x="21.54" y="32.3" font-size="33" textLength="17.65" lengthAdjust="spacingAndGlyphs" font-weight="bold" style="stroke:#1a1a1a;stroke-width:1.1px">a</text>
<text x="20.96" y="529" font-size="33" textLength="22.55" lengthAdjust="spacingAndGlyphs" font-weight="bold" style="stroke:#1a1a1a;stroke-width:1.1px">b</text>
<text x="155.02" y="323.1" font-size="22.5" textLength="198.98" lengthAdjust="spacingAndGlyphs">Gaussian–Gaussian</text>
<text x="196.5" y="349.4" font-size="22.5" textLength="121.82" lengthAdjust="spacingAndGlyphs">wavepacket</text>
<text x="422.77" y="409.6" font-size="22.5" textLength="225.95" lengthAdjust="spacingAndGlyphs">ST holographic phase</text>
<text x="501.68" y="435" font-size="22.5" textLength="67.82" lengthAdjust="spacingAndGlyphs">(SLM1)</text>
<text x="834.85" y="344.2" font-size="22.5" textLength="137.22" lengthAdjust="spacingAndGlyphs">Semi-circular</text>
<text x="821.0" y="369.6" font-size="22.5" textLength="166.53" lengthAdjust="spacingAndGlyphs">Airy wavepacket</text>
<text x="399.48" y="529.1" font-size="22.5" textLength="400.06" lengthAdjust="spacingAndGlyphs">Logarithmic coordinate transformation</text>
<text x="362.42" y="786.1" font-size="22.5" textLength="146.99" lengthAdjust="spacingAndGlyphs">Folding phase</text>
<text x="398.64" y="820.6" font-size="22.5" textLength="70.69" lengthAdjust="spacingAndGlyphs">(SLM2)</text>
<text x="201.85" y="873.9" font-size="22.5" textLength="137.32" lengthAdjust="spacingAndGlyphs">Semi-circular</text>
<text x="187.1" y="900.7" font-size="22.5" textLength="167.72" lengthAdjust="spacingAndGlyphs">Airy wavepacket</text>
<text x="635.25" y="852" font-size="22.5" textLength="79.2" lengthAdjust="spacingAndGlyphs">Folding</text>
<text x="628.71" y="877.5" font-size="22.5" textLength="93.04" lengthAdjust="spacingAndGlyphs">direction</text>
<text x="829.96" y="838" font-size="22.5" textLength="179.05" lengthAdjust="spacingAndGlyphs">Correction phase</text>
<text x="883.32" y="863" font-size="22.5" textLength="72.13" lengthAdjust="spacingAndGlyphs">(SLM3)</text>
<text x="1111.34" y="874.6" font-size="22.5" textLength="99.59" lengthAdjust="spacingAndGlyphs">Spherical</text>
<text x="1076.8" y="900.7" font-size="22.5" textLength="167.52" lengthAdjust="spacingAndGlyphs">Airy wavepacket</text>
<text x="29.3" y="289.9" font-size="22.5" class="it" textLength="12.76" lengthAdjust="spacingAndGlyphs">X</text>
<text x="79.3" y="319.5" font-size="22.5" class="it" textLength="12.76" lengthAdjust="spacingAndGlyphs">Y</text>
<text x="78.81" y="356.6" font-size="22.5" class="it" textLength="11.63" lengthAdjust="spacingAndGlyphs">T</text>
<text x="487.4" y="71" font-size="22.5" class="it" textLength="13.33" lengthAdjust="spacingAndGlyphs">X</text>
<text x="637.12" y="382" font-size="22.5" class="it" textLength="15.34" lengthAdjust="spacingAndGlyphs">ω</text>
<text x="933.0" y="45.2" font-size="22.5" class="it" textLength="14.08" lengthAdjust="spacingAndGlyphs">X</text>
<text x="1035.8" y="21.6" font-size="22.5" class="it" textLength="12.86" lengthAdjust="spacingAndGlyphs">X</text>
<text x="1067.65" y="336" font-size="22.5" class="it" textLength="12.69" lengthAdjust="spacingAndGlyphs">T</text>
<text x="1171.04" y="301.1" font-size="22.5" class="it" textLength="11.42" lengthAdjust="spacingAndGlyphs">T</text>
<text x="368.0" y="582.3" font-size="22.5" class="it" textLength="12.39" lengthAdjust="spacingAndGlyphs">X</text>
<text x="514.94" y="670.6" font-size="22.5" class="it" textLength="11.69" lengthAdjust="spacingAndGlyphs">Y</text>
<text x="848.0" y="571.7" font-size="22.5" class="it" textLength="12.2" lengthAdjust="spacingAndGlyphs">X</text>
<text x="993.66" y="741" font-size="22.5" class="it" textLength="12.33" lengthAdjust="spacingAndGlyphs">Y</text>
<text x="25.2" y="791.8" font-size="22.5" class="it" textLength="12.39" lengthAdjust="spacingAndGlyphs">X</text>
<text x="77.42" y="858.9" font-size="22.5" class="it" textLength="11.53" lengthAdjust="spacingAndGlyphs">T</text>
<text x="1161.46" y="569" font-size="22.5" class="it" textLength="15.79" lengthAdjust="spacingAndGlyphs">U</text>
<text x="1209.55" y="605.6" font-size="22.5" class="it" textLength="13.11" lengthAdjust="spacingAndGlyphs">V</text>
<text x="1209.5" y="645.3" font-size="22.5" class="it" textLength="12.38" lengthAdjust="spacingAndGlyphs">T</text>
<text x="954.6" y="57.6" font-size="22" textLength="85.5" lengthAdjust="spacingAndGlyphs" transform="rotate(26.8 954.6 57.6)">Intensity</text>
<text x="1082.8" y="51.6" font-size="22" textLength="60" lengthAdjust="spacingAndGlyphs" transform="rotate(27 1082.8 51.6)">Phase</text>
</svg><script>(function(){
var PC=[[62,38,168],[40,90,230],[25,135,225],[10,168,200],[50,185,160],[140,192,110],[215,188,80],[250,205,45],[245,235,25]];
function parula(t){t=t<0?0:(t>1?1:t);t*=8;var i=Math.floor(t);if(i>7)i=7;var f=t-i,a=PC[i],b=PC[i+1];
 return [a[0]+(b[0]-a[0])*f,a[1]+(b[1]-a[1])*f,a[2]+(b[2]-a[2])*f];}
var seed=12345;function rnd(){seed=(seed*1103515245+12345)&0x7fffffff;return seed/0x7fffffff;}
function frac(x){return x-Math.floor(x);}
function plate(id,x0,y0,w,h,inside,fn,ss,blur){
  var c=document.getElementById(id); if(!c||!c.getContext) return false;
  var ctx=c.getContext('2d'); var img=ctx.createImageData(w,h); var d=img.data;
  ss=ss||3; var n=ss*ss;
  for(var j=0;j<h;j++)for(var i=0;i<w;i++){
    var r=0,g=0,b=0,cov=0;
    for(var sj=0;sj<ss;sj++)for(var si=0;si<ss;si++){
      var X=x0+i+(si+0.5)/ss, Y=y0+j+(sj+0.5)/ss;
      if(!inside(X,Y)) continue;
      var col=fn(X,Y); r+=col[0];g+=col[1];b+=col[2];cov++;
    }
    if(cov===0) continue;
    var k=(j*w+i)*4; d[k]=r/cov;d[k+1]=g/cov;d[k+2]=b/cov;d[k+3]=255*cov/n;
  }
  if(blur){ for(var it=0;it<blur;it++){ var src=new Float32Array(d); 
    for(var j=0;j<h;j++)for(var i=0;i<w;i++){ var k=(j*w+i)*4; if(src[k+3]===0) continue; var r=0,g=0,b=0,ws=0;
      for(var dj=-1;dj<=1;dj++)for(var di=-1;di<=1;di++){var jj=j+dj,ii=i+di; if(jj<0||ii<0||jj>=h||ii>=w) continue; var kk=(jj*w+ii)*4; var a=src[kk+3]; if(a<255) continue; var wt=(di===0&&dj===0)?2:1; r+=src[kk]*wt;g+=src[kk+1]*wt;b+=src[kk+2]*wt;ws+=wt;}
      if(ws>0){d[k]=r/ws;d[k+1]=g/ws;d[k+2]=b/ws;} } } }
  ctx.putImageData(img,0,0); return true;
}
function ell(X,Y,cx,cy,rx,ry,th){var dx=X-cx,dy=Y-cy,c=Math.cos(th*Math.PI/180),s=Math.sin(th*Math.PI/180);
  var u=dx*c+dy*s,v=-dx*s+dy*c;return Math.sqrt((u/rx)*(u/rx)+(v/ry)*(v/ry));}
function mixc(c,m){var a=[118,178,160];return [c[0]*(1-m)+a[0]*m,c[1]*(1-m)+a[1]*m,c[2]*(1-m)+a[2]*m];}
function hide(id){var e=document.getElementById(id); if(e) e.setAttribute('display','none');}
window.__plates=function(){
 // SLM3
 if(plate('cv3',856,527,116,282,function(X,Y){return X>=856.8&&X<=970.8&&Y>=598.6-0.6175*(X-856.8)&&Y<=808-0.632*(X-856.8);},
  function(X,Y){
    var th=16*Math.PI/180, c=Math.cos(th), sn=Math.sin(th);
    var dx=X-877.5, dy=Y-716; var u=dx*c+dy*sn, v=-dx*sn+dy*c;
    var ry=16*(1+0.06*Math.max(0,-v)/40); var r1=Math.sqrt((u/6.5)*(u/6.5)+(v/ry)*(v/ry));
    th=-3*Math.PI/180; c=Math.cos(th); sn=Math.sin(th);
    dx=X-950.5; dy=Y-670.5; u=dx*c+dy*sn; v=-dx*sn+dy*c;
    var rx=6.6*(1+0.3*Math.max(0,-v)/25*Math.max(0,-u)/(Math.abs(u)+1)); var r2=Math.sqrt((u/rx)*(u/rx)+(v/13)*(v/13));
    var p1=0.715+0.285*Math.pow(r1,1.8)+0.006*r1*r1*r1, p2=0.715+0.285*Math.pow(r2,1.8)+0.006*r2*r2*r2;
    var p=Math.min(p1,p2);
    var q=(Y-660)/45; q=q<0?0:(q>1?1:q);
    p+=5*Math.exp(-((X-913)/15)*((X-913)/15))*q;
    var nz=(p-4)/5; nz=nz<0?0:(nz>1?1:nz);
    p+=(rnd()-0.5)*0.6*nz;
    return mixc(parula(1-frac(p)),0.4*nz);
  },2,1)) hide('fb3');
 // SLM2
 if(plate('cv2',376,565,114,181,function(X,Y){return X>=376.2&&X<=489.2&&Y>=635.7-0.6177*(X-376.2)&&Y<=745-0.657*(X-376.2);},
  function(X,Y){
    var r1=ell(X,Y,433.5,654.5,21,12.5,-22), r2=ell(X,Y,430,606,9,5,-25), r3=ell(X,Y,396,712,3,14,28), r4=ell(X,Y,469,661,3,4,0);
    var p1=0.03+0.97*Math.pow(r1,1.8)+0.03*r1*r1*r1, p2=0.4+0.5*Math.pow(r2,1.5)+0.03*r2*r2*r2;
    var p3=3.05+0.4*Math.pow(r3,1.5)+0.05*r3*r3*r3, p4=3.0+0.5*Math.pow(r4,1.5)+0.05*r4*r4*r4;
    var p=Math.min(p1,p2,p3,p4);
    var nz=(p-3)/4; nz=nz<0?0:(nz>1?1:nz);
    p+=(rnd()-0.5)*0.5*nz;
    return mixc(parula(1-frac(p)),0.3*nz);
  },2,1)) hide('fb2');
 // SLM1
 if(plate('cv1',496,97,117,265,function(X,Y){return X>=497&&X<=612&&Y>=98+0.629*(X-497)&&Y<=289.4+0.629*(X-497);},
  function(X,Y){
    var period=11.7;
    var car=(Y-98-0.629*(X-497))/period;
    var sh=0, amp=1;
    function inb(xa,xb){return X>=xa&&X<=xb;}
    if(Y>=122&&Y<=258&&inb(529-(Y-180)*0.12, 540.3-(Y-180)*0.12)) {sh=0.5;}
    if(Y>=148&&Y<=303&&inb(568.2+(Y-180)*0.02, 579.6-(Y-180)*0.02)) {sh=0.5;}
    if(Y>=176&&Y<=236&&inb(514.5-(Y-179)*0.1,519-(Y-179)*0.1)) sh=0.5;
    if(Y>=222&&Y<=290&&inb(590+(Y-227)*0.05,595.5+(Y-227)*0.03)) sh=0.5;
    // center strip
    var cl=540.3-(Y-180)*0.12, cr=568.2+(Y-180)*0.02;
    if(X>cl&&X<cr&&Y>150&&Y<260){
      var e=Math.exp(-(((X-553)/15)*((X-553)/15)+((Y-229)/11)*((Y-229)/11)));
      var e2=Math.exp(-((Y-215)/30)*((Y-215)/30));
      amp=1-0.45*e2-0.6*e; if(amp<0.05) amp=0.05;
    }
    // bottom bowl
    var gx=(X-558)/26, gy=(Y-275)/26; var gb=Math.exp(-(gx*gx+gy*gy));
    car-=0.7*gb;
    var dl=(X-(520+(Y-245)*0.67)); if(Y>245&&Y<305&&Math.abs(dl)<2.5) sh+=0.5;
    var dr=(X-(586+(Y-240)*0.18)); if(Y>240&&Y<300&&Math.abs(dr)<2.5) sh+=0.5;
    var dm=(X-(550+(Y-250)*0.5)); if(Y>250&&Y<300&&Math.abs(dm)<2) sh+=0.5;
    var p=frac(car+sh);
    var t=Math.pow(1-p,1.3); t=amp*t+(1-amp)*0.04;
    return parula(t);
  },3,1)) hide('fb1');
};
})();

window.__plates();</script></body></html>
